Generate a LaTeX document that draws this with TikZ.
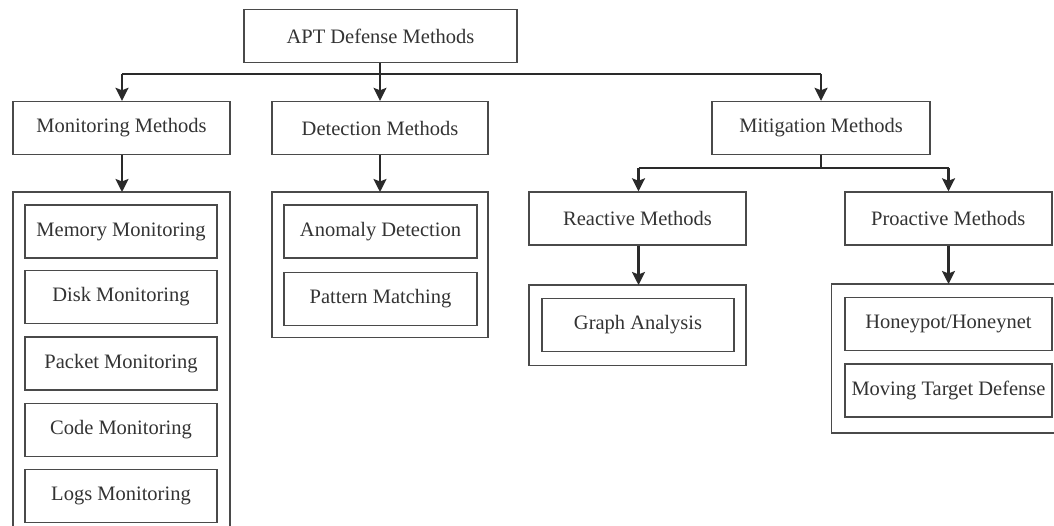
\documentclass[tikz,border=0pt]{standalone}
\usepackage{fontspec}
\setmainfont{Liberation Serif}
\usetikzlibrary{arrows.meta}
\begin{document}
\begin{tikzpicture}[x=1pt,y=1pt,
  box/.style={draw=boxgray, line width=1.4pt, fill=white, text=txtgray,
    minimum height=53pt, inner sep=0pt, font=\fontsize{20.5}{24}\selectfont},
  frame/.style={draw=boxgray, line width=1.4pt},
  link/.style={draw=linegray, line width=2.3pt},
  thinlink/.style={draw=linegray, line width=1.3pt},
  tip/.style={-{Stealth[length=13pt,width=13pt,inset=2.5pt]}}
]
\definecolor{boxgray}{HTML}{4A4A4A}
\definecolor{linegray}{HTML}{2A2A2A}
\definecolor{txtgray}{HTML}{333333}
\clip (0,0) rectangle (1054,-526);
\fill[white] (0,0) rectangle (1054,-526);

% group frames
\draw[frame] (13,-192) rectangle (230,-560);
\draw[frame] (272,-192) rectangle (488,-337.5);
\draw[frame] (529,-285) rectangle (746,-365.5);
\draw[frame] (831.6,-284) rectangle (1070,-433);

% root and first level
\node[box, minimum width=273pt] (apt) at (380.5,-36) {APT Defense Methods};
\node[box, minimum width=217pt] (mon) at (121.5,-128) {Monitoring Methods};
\node[box, minimum width=216pt] (det) at (380,-128) {Detection Methods};
\node[box, minimum width=218pt] (mit) at (821,-128) {Mitigation Methods};

% second level of mitigation
\node[box, minimum width=217pt] (rea) at (637.5,-218.5) {Reactive Methods};
\node[box, minimum width=207pt] (pro) at (948.3,-218.5) {Proactive Methods};

% monitoring items
\node[box, minimum width=192pt] (mem) at (121,-231.5) {Memory Monitoring};
\node[box, minimum width=192pt] (dsk) at (121,-297) {Disk Monitoring};
\node[box, minimum width=192pt] (pkt) at (121,-363.5) {Packet Monitoring};
\node[box, minimum width=192pt] (cod) at (121,-430) {Code Monitoring};
\node[box, minimum width=192pt] (log) at (121,-496) {Logs Monitoring};

% detection items
\node[box, minimum width=193pt] (ano) at (380.5,-231.5) {Anomaly Detection};
\node[box, minimum width=193pt] (pat) at (380.5,-299) {Pattern Matching};

% reactive item
\node[box, minimum width=192pt] (gra) at (638,-325) {Graph Analysis};

% proactive items
\node[box, minimum width=207pt] (hon) at (948.5,-324) {Honeypot/Honeynet};
\node[box, minimum width=207pt] (mtd) at (948.5,-390.5) {Moving Target Defense};

% connectors from the root
\coordinate (bus) at (380,-74);
\coordinate (busL) at (122,-74);
\coordinate (busR) at (821,-74);
\draw[thinlink] (apt.south -| bus) -- (bus);
\draw[link] (busL) -- (busR);
\draw[link, tip] (busL) -- (mon.north -| busL);
\draw[thinlink, tip] (bus) -- (det.north);
\draw[link, tip] (busR) -- (mit.north -| busR);

% monitoring and detection to their groups
\coordinate (monG) at (122,-192);
\coordinate (detG) at (380,-192);
\draw[link, tip] (mon.south -| monG) -- (monG);
\draw[link, tip] (det.south -| detG) -- (detG);

% mitigation branches
\coordinate (mj) at (821,-168);
\coordinate (mjL) at (638.5,-168);
\coordinate (mjR) at (948.5,-168);
\draw[link] (mit.south -| mj) -- (mj);
\draw[link] (mjL) -- (mjR);
\draw[link, tip] (mjL) -- (rea.north -| mjL);
\draw[link, tip] (mjR) -- (pro.north -| mjR);

% reactive and proactive to their groups
\coordinate (reaG) at (638.5,-285);
\coordinate (proG) at (948.5,-284);
\draw[link, tip] (rea.south -| reaG) -- (reaG);
\draw[link, tip] (pro.south -| proG) -- (proG);
\end{tikzpicture}
\end{document}
